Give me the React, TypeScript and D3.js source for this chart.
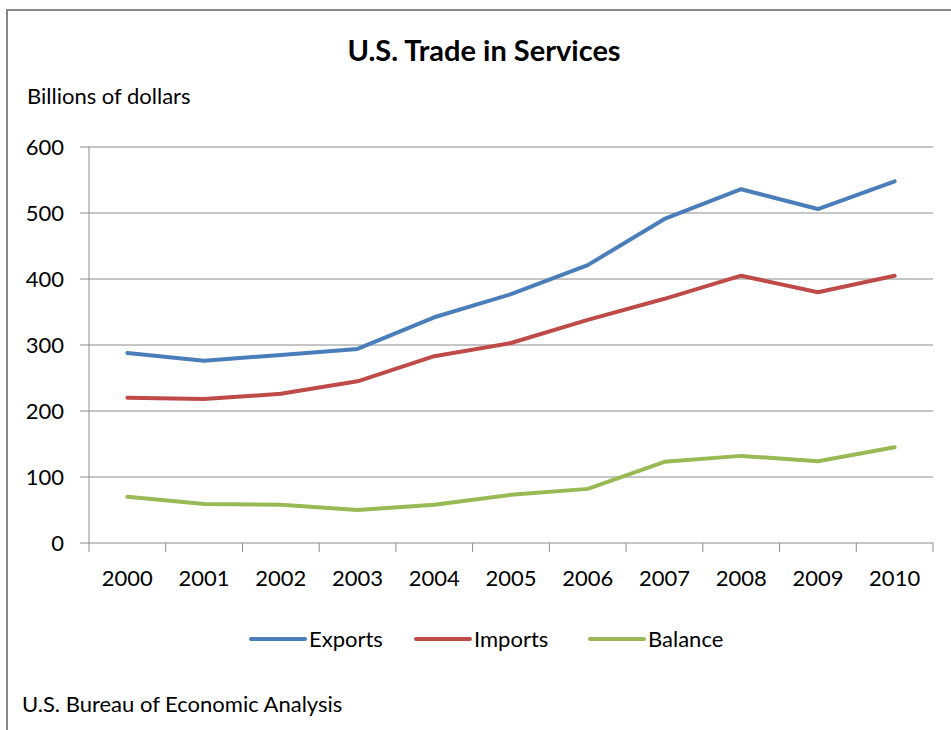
import React from "react";
import * as d3 from "d3";

const years = ["2000","2001","2002","2003","2004","2005","2006","2007","2008","2009","2010"];
const exportsData = [288, 276, 285, 294, 342, 377, 421, 491, 536, 506, 548];
const importsData = [220, 218, 226, 245, 283, 303, 338, 370, 405, 380, 405];
const balanceData = [70, 59, 58, 50, 58, 73, 82, 123, 132, 124, 145];
const yTicks = [0, 100, 200, 300, 400, 500, 600];
const seriesNames = ["Exports", "Imports", "Balance"];
const seriesColors = ["#4a7ebb", "#be4b48", "#98b954"];

const W = 951, H = 730;
const L = 89, R = 933, T = 147, B = 543;
const FONT = "Lato, Carlito, Calibri, sans-serif";

export default function App() {
  const x = d3.scaleBand<string>().domain(years).range([L, R]);
  const y = d3.scaleLinear().domain([0, 600]).range([B, T]);
  const series = [exportsData, importsData, balanceData];
  const line = d3.line<number>()
    .x((_, i) => (x(years[i]) as number) + x.bandwidth() / 2)
    .y((d) => y(d));
  const boundaries = d3.range(years.length + 1).map((i) => L + i * x.step());
  const legendX = [251, 416, 590];

  return (
    <svg width={W} height={H} style={{ position: "absolute", left: 0, top: 0 }}>
      <rect x={0} y={0} width={W} height={H} fill="#fff" />
      <rect x={7} y={10} width={W + 20} height={H + 20} fill="#fff" stroke="#888" strokeWidth={2} />
      <text x={484} y={61} textAnchor="middle" fontFamily={FONT} fontWeight="bold" fontSize={29} fill="#000">U.S. Trade in Services</text>
      <text x={27} y={104} fontFamily={FONT} fontSize={22} fill="#000">Billions of dollars</text>
      {yTicks.map((t) => (
        <g key={t}>
          {t > 0 && <line x1={L} x2={R} y1={y(t)} y2={y(t)} stroke="#8c8c8c" strokeWidth={1} />}
          <line x1={80} x2={L} y1={y(t)} y2={y(t)} stroke="#8c8c8c" strokeWidth={1} />
          <text x={64} y={y(t) + 8} textAnchor="end" fontFamily={FONT} fontSize={22} fill="#000">{t}</text>
        </g>
      ))}
      <line x1={L} x2={L} y1={T} y2={B} stroke="#8c8c8c" strokeWidth={1} />
      <line x1={L} x2={R} y1={B} y2={B} stroke="#8c8c8c" strokeWidth={1} />
      {boundaries.map((bx, i) => (
        <line key={i} x1={bx} x2={bx} y1={B} y2={B + 9} stroke="#8c8c8c" strokeWidth={1} />
      ))}
      {years.map((yr) => (
        <text key={yr} x={(x(yr) as number) + x.bandwidth() / 2} y={586} textAnchor="middle" fontFamily={FONT} fontSize={22} fill="#000">{yr}</text>
      ))}
      {series.map((s, i) => (
        <path key={i} d={line(s) || ""} fill="none" stroke={seriesColors[i]} strokeWidth={4} strokeLinejoin="round" strokeLinecap="round" />
      ))}
      {seriesNames.map((n, i) => (
        <g key={n}>
          <line x1={legendX[i]} x2={legendX[i] + 54} y1={639} y2={639} stroke={seriesColors[i]} strokeWidth={4} strokeLinecap="round" />
          <text x={legendX[i] + 58} y={647} fontFamily={FONT} fontSize={22} fill="#000">{n}</text>
        </g>
      ))}
      <text x={22} y={712} fontFamily={FONT} fontSize={22} fill="#000">U.S. Bureau of Economic Analysis</text>
    </svg>
  );
}
